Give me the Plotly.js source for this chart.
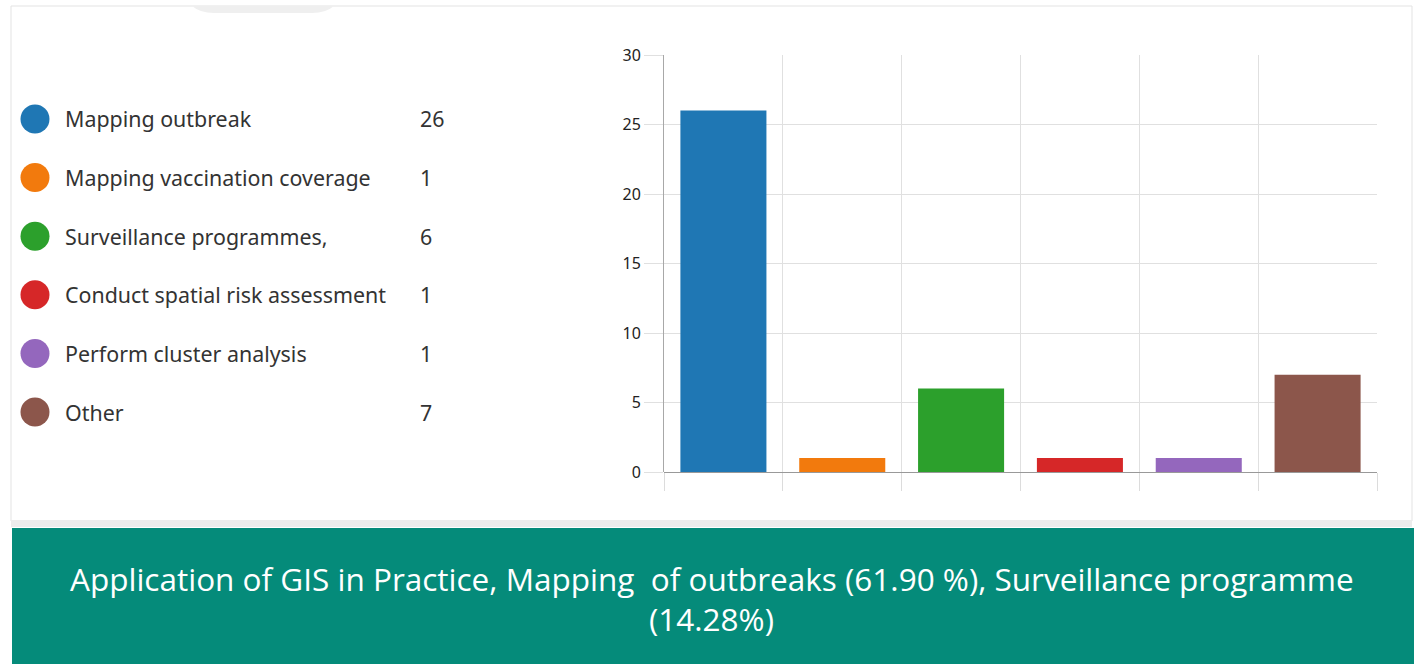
<!DOCTYPE html>
<html>
<head>
<meta charset="utf-8">
<script src="https://cdn.plot.ly/plotly-3.0.1.min.js"></script>
<style>
html,body{margin:0;padding:0;background:#fff;overflow:hidden;}
#chart{width:1414px;height:664px;}
</style>
</head>
<body>
<div id="chart"></div>
<script>
const categories = ["Mapping outbreak","Mapping vaccination coverage","Surveillance programmes,","Conduct spatial risk assessment","Perform cluster analysis","Other"];
const counts = [26, 1, 6, 1, 1, 7];
const colors = ["#1f77b4","#f27a0d","#2ca02c","#d62728","#9467bd","#8c564b"];
const yTicks = [0, 5, 10, 15, 20, 25, 30];
const bannerLines = ["Application of GIS in Practice, Mapping&nbsp; of outbreaks (61.90 %), Surveillance programme", "(14.28%)"];

const W = 1414, H = 664;
const px = x => x / W;
const py = y => 1 - y / H;
const idx = categories.map((_, i) => i);

const barTrace = {
  type: 'bar', x: categories, y: counts,
  marker: {color: colors, line: {width: 0}},
  xaxis: 'x', yaxis: 'y', hoverinfo: 'x+y', showlegend: false
};
const legendDots = {
  type: 'scatter', mode: 'markers',
  x: idx.map(() => 0), y: idx,
  marker: {color: colors, size: 29, line: {width: 0}},
  xaxis: 'x2', yaxis: 'y2', hoverinfo: 'skip', showlegend: false
};

const legendFont = {family: 'Noto Sans, sans-serif', size: 21.4, color: '#333'};
const annotations = [];
categories.forEach((c, i) => {
  annotations.push({xref: 'paper', yref: 'y2', x: px(63), y: i, xanchor: 'left', yanchor: 'middle',
    text: c, showarrow: false, font: legendFont});
  annotations.push({xref: 'paper', yref: 'y2', x: px(418), y: i, xanchor: 'left', yanchor: 'middle',
    text: String(counts[i]), showarrow: false, font: legendFont});
});
const bannerFont = {family: 'Open Sans, sans-serif', size: 31.5, color: '#ffffff'};
annotations.push({xref: 'paper', yref: 'paper', x: px(712), y: py(578), xanchor: 'center', yanchor: 'middle',
  text: bannerLines[0], showarrow: false, font: bannerFont});
annotations.push({xref: 'paper', yref: 'paper', x: px(712), y: py(618), xanchor: 'center', yanchor: 'middle',
  text: bannerLines[1], showarrow: false, font: bannerFont});

const shapes = [
  {type: 'rect', xref: 'paper', yref: 'paper', x0: px(11), x1: px(1412), y0: py(521), y1: py(6),
   fillcolor: '#ffffff', line: {color: '#e3e3e3', width: 1}, layer: 'below'},
  {type: 'rect', xref: 'paper', yref: 'paper', x0: px(11), x1: px(1412), y0: py(527), y1: py(520),
   fillcolor: '#ececec', line: {width: 0}, layer: 'below'},
  {type: 'path', xref: 'paper', yref: 'paper',
   path: 'M ' + px(192) + ' ' + py(6) + ' L ' + px(334) + ' ' + py(6) +
         ' Q ' + px(326) + ' ' + py(13) + ' ' + px(312) + ' ' + py(13) +
         ' L ' + px(214) + ' ' + py(13) + ' Q ' + px(200) + ' ' + py(13) + ' ' + px(192) + ' ' + py(6) + ' Z',
   fillcolor: '#efefef', line: {width: 0}, layer: 'below'},
  {type: 'rect', xref: 'paper', yref: 'paper', x0: px(12), x1: 1, y0: 0, y1: py(528),
   fillcolor: '#058b7a', line: {width: 0}, layer: 'below'}
];

const layout = {
  width: W, height: H,
  margin: {l: 0, r: 0, t: 0, b: 0},
  paper_bgcolor: '#ffffff', plot_bgcolor: 'rgba(0,0,0,0)',
  bargap: 0.276,
  showlegend: false,
  xaxis: {
    domain: [px(664), px(1377)], anchor: 'y', type: 'category',
    tickson: 'boundaries', showticklabels: false,
    ticks: 'outside', ticklen: 18, tickcolor: '#dcdcdc', tickwidth: 1,
    showgrid: true, gridcolor: '#e0e0e0', gridwidth: 1,
    showline: false, zeroline: false, fixedrange: true
  },
  yaxis: {
    domain: [py(472), py(55)], anchor: 'x', range: [0, 30],
    tickvals: yTicks, ticktext: yTicks.map(String),
    ticks: 'outside', ticklen: 19, tickcolor: '#e0e0e0', tickwidth: 1,
    tickfont: {family: 'Noto Sans, sans-serif', size: 16, color: '#222'},
    showgrid: true, gridcolor: '#e0e0e0', gridwidth: 1,
    showline: true, linecolor: '#a8a8a8', linewidth: 1,
    zeroline: true, zerolinecolor: '#999999', zerolinewidth: 1, fixedrange: true
  },
  xaxis2: {domain: [0, px(141)], anchor: 'y2', range: [-35, 106], visible: false, fixedrange: true},
  yaxis2: {domain: [py(441.3), py(89.7)], anchor: 'x2', range: [5.5, -0.5], visible: false, fixedrange: true},
  shapes: shapes,
  annotations: annotations
};

Plotly.newPlot('chart', [barTrace, legendDots], layout, {displayModeBar: false, staticPlot: true});
</script>
</body>
</html>
